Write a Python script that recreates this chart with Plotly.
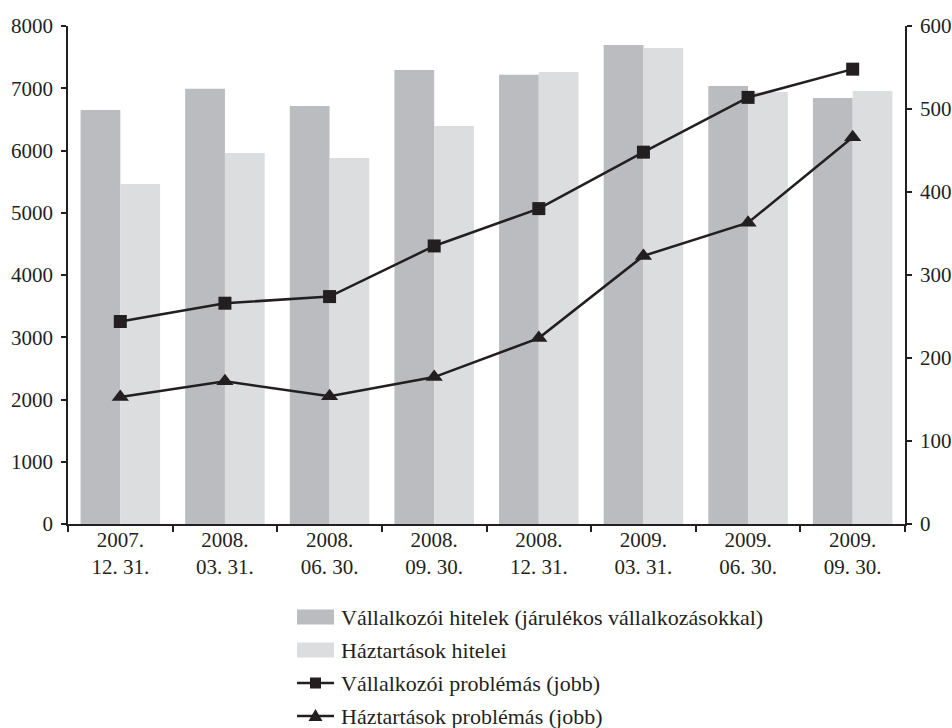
import plotly.graph_objects as go

# Quarter-end dates (category labels)
periods = ["2007.<br>12. 31.", "2008.<br>03. 31.", "2008.<br>06. 30.", "2008.<br>09. 30.",
           "2008.<br>12. 31.", "2009.<br>03. 31.", "2009.<br>06. 30.", "2009.<br>09. 30."]

# Loan stocks (left axis)
corporate_loans = [6650, 6990, 6715, 7295, 7215, 7695, 7035, 6845]
household_loans = [5460, 5960, 5880, 6395, 7260, 7645, 6940, 6955]

# Problem loans (right axis)
corporate_problem = [244, 266, 274, 335, 380, 448, 514, 548]
household_problem = [153, 172, 154, 177, 224, 323, 363, 466]

names = ["Vállalkozói hitelek (járulékos vállalkozásokkal)", "Háztartások hitelei",
         "Vállalkozói problémás (jobb)", "Háztartások problémás (jobb)"]

INK = "#231f20"
DARK = "#bbbcc0"
LIGHT = "#dcdddf"
FONT = "Liberation Serif"

W, H = 952, 728
L, R, T, B = 68, 47, 26, 204
PW, PH = W - L - R, H - T - B


def px(x):
    return (x - L) / PW


def py(y):
    return (H - B - y) / PH


fig = go.Figure()
fig.add_trace(go.Bar(x=periods, y=corporate_loans, name=names[0], marker_color=DARK,
                     marker_line_width=0, showlegend=False))
fig.add_trace(go.Bar(x=periods, y=household_loans, name=names[1], marker_color=LIGHT,
                     marker_line_width=0, showlegend=False))
fig.add_trace(go.Scatter(x=periods, y=corporate_problem, name=names[2], yaxis="y2",
                         mode="lines+markers", line=dict(color=INK, width=2.5),
                         marker=dict(symbol="square", size=13, color=INK), showlegend=False))
fig.add_trace(go.Scatter(x=periods, y=household_problem, name=names[3], yaxis="y2",
                         mode="lines+markers", line=dict(color=INK, width=2.5),
                         marker=dict(symbol="triangle-up", size=15, color=INK), showlegend=False))

x_font = dict(family=FONT, size=21, color=INK)
y_font = dict(family=FONT, size=21, color=INK)
legend_font = dict(family=FONT, size=22, color=INK)

fig.update_layout(
    template="none",
    width=W, height=H,
    margin=dict(l=L, r=R, t=T, b=B, pad=0, autoexpand=False),
    paper_bgcolor="white", plot_bgcolor="white",
    barmode="group", bargap=0.24, bargroupgap=0,
    font=x_font,
    xaxis=dict(type="category", showgrid=False, zeroline=False, showline=True,
               automargin=False,
               linecolor=INK, linewidth=1.5, ticks="outside", tickson="boundaries",
               ticklen=6, tickwidth=1.5, tickcolor=INK, tickfont=x_font,
               ticklabelstandoff=-4),
    yaxis=dict(range=[0, 8000], dtick=1000, showgrid=False, zeroline=False,
               automargin=False,
               showline=True, linecolor=INK, linewidth=1.5, ticks="outside",
               ticklen=5, tickwidth=1.5, tickcolor=INK, tickfont=y_font,
               ticklabelstandoff=4),
    yaxis2=dict(range=[0, 600], dtick=100, overlaying="y", side="right",
                automargin=False,
                showgrid=False, zeroline=False, showline=True, linecolor=INK,
                linewidth=1.5, ticks="outside", ticklen=5, tickwidth=1.5,
                tickcolor=INK, tickfont=y_font, ticklabelstandoff=4),
)

# Unit caption above the plot area
fig.add_annotation(text="(milliárd Ft)", xref="paper", yref="paper",
                   x=px(263), y=py(-0.5), xanchor="center", yanchor="bottom",
                   showarrow=False, font=x_font)

# Legend drawn beneath the chart
rows = [617, 650, 683, 716]
sym_x0, sym_x1, text_x = 297, 334, 339

for row, color in zip(rows[:2], [DARK, LIGHT]):
    fig.add_shape(type="rect", xref="paper", yref="paper",
                  x0=px(sym_x0), x1=px(sym_x1), y0=py(row + 7.5), y1=py(row - 7.5),
                  fillcolor=color, line_width=0)

for row in rows[2:]:
    fig.add_shape(type="line", xref="paper", yref="paper",
                  x0=px(sym_x0), x1=px(sym_x1), y0=py(row), y1=py(row),
                  line=dict(color=INK, width=2.5))

cx = (sym_x0 + sym_x1) / 2
r2 = rows[2]
fig.add_shape(type="rect", xref="paper", yref="paper",
              x0=px(cx - 5.5), x1=px(cx + 5.5), y0=py(r2 + 5.5), y1=py(r2 - 5.5),
              fillcolor=INK, line_width=0)
r3 = rows[3]
tri = "M {:.5f},{:.5f} L {:.5f},{:.5f} L {:.5f},{:.5f} Z".format(
    px(cx - 7), py(r3 + 5), px(cx + 7), py(r3 + 5), px(cx), py(r3 - 7))
fig.add_shape(type="path", xref="paper", yref="paper", path=tri,
              fillcolor=INK, line_width=0)

for row, name in zip(rows, names):
    fig.add_annotation(text=name, xref="paper", yref="paper", x=px(text_x), y=py(row),
                       xanchor="left", yanchor="middle", showarrow=False, font=legend_font)

fig.write_html("out.html")
